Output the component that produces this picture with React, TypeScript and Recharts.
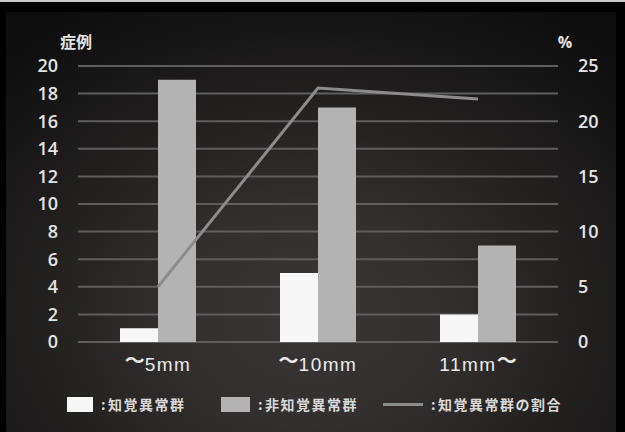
import React from 'react';
import {
  ComposedChart,
  Bar,
  Line,
  XAxis,
  YAxis,
  CartesianGrid,
  Legend,
  Label,
} from 'recharts';

// Lesion size groups
const categories = ['～5mm', '～10mm', '11mm～'];
// Cases with sensory abnormality
const abnormalCases = [1, 5, 2];
// Cases without sensory abnormality
const normalCases = [19, 17, 7];
// Share of abnormal cases (%)
const abnormalRatio = [5, 23, 22];

const leftTicks = [0, 2, 4, 6, 8, 10, 12, 14, 16, 18, 20];
const rightTicks = [0, 5, 10, 15, 20, 25];

const data = categories.map((name, i) => ({
  name,
  abnormal: abnormalCases[i],
  normal: normalCases[i],
  ratio: abnormalRatio[i],
}));

const NUM_FONT = '"Open Sans", "Liberation Sans", sans-serif';
const JP_FONT = '"Noto Sans CJK JP", "Noto Sans", sans-serif';

// Legend placement per series key
const legendSlots: Record<string, { boxX: number; boxW: number; textX: number }> = {
  abnormal: { boxX: 67, boxW: 26, textX: 101 },
  normal: { boxX: 221, boxW: 29, textX: 258 },
  ratio: { boxX: 383, boxW: 40, textX: 431 },
};

const renderLegend = (props: any) => {
  const payload = props.payload || [];
  return (
    <div style={{ position: 'relative', width: 625, height: 432 }}>
      {payload.map((entry: any) => {
        const slot = legendSlots[entry.dataKey as string];
        if (!slot) return null;
        const isLine = entry.dataKey === 'ratio';
        return (
          <React.Fragment key={entry.dataKey}>
            <div
              style={{
                position: 'absolute',
                left: slot.boxX,
                top: isLine ? 403 : 397,
                width: slot.boxW,
                height: isLine ? 3 : 15,
                background: entry.color,
              }}
            />
            <div
              style={{
                position: 'absolute',
                left: slot.textX,
                top: 395,
                fontFamily: JP_FONT,
                fontSize: 14,
                fontWeight: 700,
                color: '#d9d9d9',
                lineHeight: '18px',
                whiteSpace: 'nowrap',
              }}
            >
              :
            </div>
            <div
              style={{
                position: 'absolute',
                left: slot.textX + 7,
                top: 395,
                fontFamily: JP_FONT,
                fontSize: 14,
                fontWeight: 700,
                letterSpacing: 1.5,
                color: '#d9d9d9',
                lineHeight: '18px',
                whiteSpace: 'nowrap',
              }}
            >
              {entry.value}
            </div>
          </React.Fragment>
        );
      })}
    </div>
  );
};

// Category label: wave dash drawn with a CJK face, the rest in a Latin face
const CategoryTick = (props: any) => {
  const { x, payload } = props;
  const label: string = payload.value;
  const parts = label.split(/(～)/).filter((p) => p.length > 0);
  let lift = 0;
  return (
    <text
      x={x}
      y={371}
      textAnchor="middle"
      fill="#ececec"
      fontFamily='"Liberation Sans", Arial, sans-serif'
      fontSize={19}
    >
      {parts.map((p, i) => {
        if (p === '～') {
          const dy = -3 - lift;
          lift = -3;
          return (
            <tspan key={i} fontFamily={JP_FONT} fontSize={20} fontWeight={700} dy={dy}>
              {p}
            </tspan>
          );
        }
        const dy = -lift;
        lift = 0;
        return (
          <tspan key={i} letterSpacing={1.5} dy={dy}>
            {p}
          </tspan>
        );
      })}
    </text>
  );
};

export default function App() {
  return (
    <div
      style={{
        position: 'absolute',
        left: 0,
        top: 0,
        width: 625,
        height: 432,
        background: '#000',
        overflow: 'hidden',
      }}
    >
      <div
        style={{
          position: 'absolute',
          left: 0,
          top: 0,
          width: 625,
          height: 2,
          background: '#c9c9c9',
        }}
      />
      <div
        style={{
          position: 'absolute',
          left: 6,
          top: 12,
          width: 610,
          height: 420,
          background:
            'radial-gradient(ellipse 75% 85% at 50% 72%, #3b3636 0%, #332f2f 30%, #221f1f 60%, #121212 90%, #0d0d0d 100%)',
        }}
      />
      <div style={{ position: 'absolute', left: 0, top: 0 }}>
        <ComposedChart
          width={625}
          height={432}
          data={data}
          margin={{ top: 66, right: 17, bottom: 50, left: 0 }}
          barGap={0}
        >
          <CartesianGrid
            yAxisId="left"
            vertical={false}
            stroke="#5e5e5e"
            strokeWidth={2}
          />
          <XAxis
            dataKey="name"
            axisLine={false}
            tickLine={false}
            tickSize={0}
            tickMargin={11}
            height={40}
            tick={<CategoryTick />}
          />
          <YAxis
            yAxisId="left"
            orientation="left"
            width={78}
            domain={[0, 20]}
            ticks={leftTicks}
            interval={0}
            axisLine={false}
            tickLine={false}
            tickSize={0}
            tickMargin={20}
            tick={{ fill: '#e4e4e4', fontSize: 18, fontWeight: 600, fontFamily: NUM_FONT }}
          >
            <Label
              content={() => (
                <text
                  x={76}
                  y={48}
                  textAnchor="middle"
                  fill="#e4e4e4"
                  fontSize={16}
                  fontWeight={700}
                  fontFamily={JP_FONT}
                >
                  症例
                </text>
              )}
            />
          </YAxis>
          <YAxis
            yAxisId="right"
            orientation="right"
            width={50}
            domain={[0, 25]}
            ticks={rightTicks}
            interval={0}
            axisLine={false}
            tickLine={false}
            tickSize={0}
            tickMargin={20}
            tick={{ fill: '#e4e4e4', fontSize: 18, fontWeight: 600, fontFamily: NUM_FONT }}
          >
            <Label
              content={() => (
                <text
                  x={565}
                  y={48}
                  textAnchor="middle"
                  fill="#e4e4e4"
                  fontSize={16}
                  fontWeight={700}
                  fontFamily={NUM_FONT}
                >
                  %
                </text>
              )}
            />
          </YAxis>
          <Legend
            verticalAlign="middle"
            align="center"
            layout="horizontal"
            wrapperStyle={{ left: 0, top: 0, width: 625, height: 432, pointerEvents: 'none' }}
            content={renderLegend}
          />
          <Bar
            yAxisId="left"
            dataKey="abnormal"
            name="知覚異常群"
            fill="#f7f7f7"
            barSize={38}
            isAnimationActive={false}
          />
          <Bar
            yAxisId="left"
            dataKey="normal"
            name="非知覚異常群"
            fill="#b3b3b3"
            barSize={38}
            isAnimationActive={false}
          />
          <Line
            yAxisId="right"
            type="linear"
            dataKey="ratio"
            name="知覚異常群の割合"
            stroke="#8c8c8c"
            strokeWidth={3}
            dot={false}
            activeDot={false}
            isAnimationActive={false}
          />
        </ComposedChart>
      </div>
    </div>
  );
}
